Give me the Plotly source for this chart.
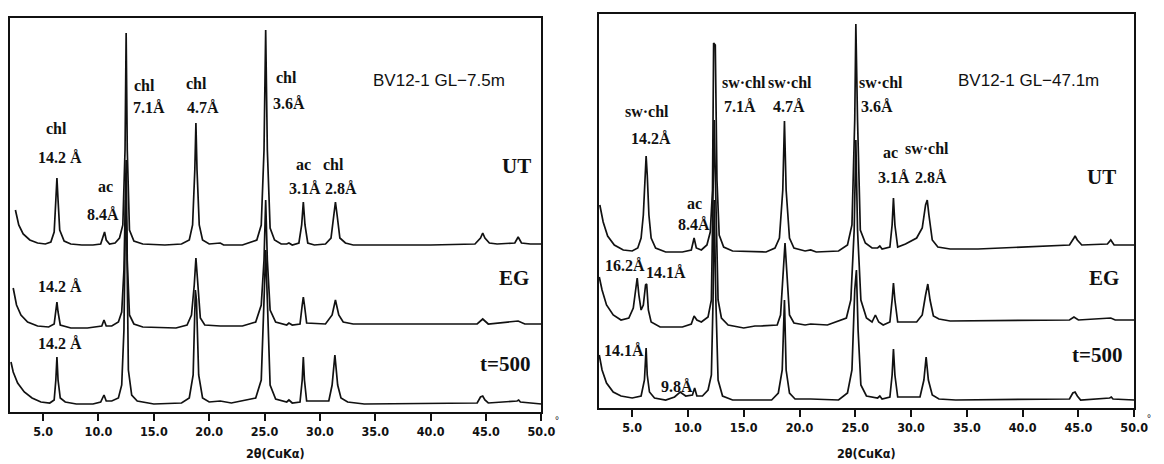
import plotly.graph_objects as go

W, H = 1164, 464

# ---------------- data: (2theta deg, relative counts) ----------------
# Left panel: BV12-1 GL-7.5m
left_ut = [(2.5, 42), (2.8, 27), (3.2, 18), (3.8, 12), (4.5, 9), (5.2, 8), (5.7, 10), (6.0, 20), (6.15, 52),
           (6.25, 74), (6.35, 52), (6.5, 22), (6.9, 11), (7.5, 8), (8.5, 7), (9.5, 7), (10.2, 8), (10.45, 16),
           (10.55, 20), (10.7, 12), (11.0, 8), (11.5, 9), (11.9, 14), (12.2, 27), (12.4, 102), (12.5, 219),
           (12.6, 102), (12.8, 22), (13.2, 11), (14.0, 8), (16.0, 7), (17.5, 8), (18.2, 12), (18.5, 27),
           (18.7, 82), (18.8, 129), (18.9, 82), (19.1, 27), (19.4, 12), (20.0, 8), (21.0, 9), (21.3, 7),
           (23.0, 7), (24.3, 12), (24.7, 27), (24.95, 102), (25.1, 222), (25.25, 102), (25.5, 24), (25.9, 12),
           (26.5, 8), (27.0, 8), (27.2, 9), (27.5, 7), (28.1, 9), (28.35, 27), (28.5, 50), (28.65, 27),
           (28.9, 9), (29.5, 7), (30.5, 8), (31.0, 14), (31.25, 37), (31.4, 50), (31.55, 37), (31.8, 14),
           (32.3, 9), (33.0, 7), (40.0, 7), (44.0, 8), (44.5, 14), (44.7, 19), (44.9, 14), (45.3, 9),
           (46.0, 8), (47.6, 9), (47.9, 15), (48.2, 9), (49.0, 8), (50.0, 8)]
left_eg = [(2.3, 44), (2.6, 27), (3.0, 17), (3.6, 10), (4.5, 6), (5.5, 5), (6.0, 8), (6.15, 20), (6.25, 30),
           (6.35, 20), (6.55, 7), (7.5, 4), (9.0, 4), (10.3, 6), (10.5, 12), (10.7, 6), (11.2, 6), (11.8, 10),
           (12.1, 20), (12.3, 62), (12.5, 172), (12.6, 72), (12.8, 17), (13.2, 8), (14.0, 5), (17.0, 4),
           (18.0, 7), (18.4, 17), (18.65, 47), (18.8, 74), (18.95, 47), (19.2, 14), (19.6, 7), (21.0, 6),
           (23.0, 6), (24.2, 10), (24.7, 27), (24.95, 72), (25.1, 132), (25.25, 72), (25.5, 22), (26.0, 10),
           (27.0, 7), (27.2, 9), (27.5, 7), (28.2, 8), (28.4, 27), (28.5, 35), (28.6, 27), (28.8, 9),
           (30.5, 8), (31.1, 17), (31.4, 32), (31.7, 17), (32.1, 10), (33.0, 8), (44.2, 8), (44.7, 13),
           (45.2, 8), (47.9, 11), (48.5, 8), (50.0, 8)]
left_t500 = [(2.1, 50), (2.3, 40), (2.7, 29), (3.3, 20), (4.0, 14), (4.8, 10), (5.6, 9), (6.0, 12), (6.15, 32),
             (6.25, 55), (6.35, 32), (6.55, 14), (7.0, 10), (8.0, 8), (9.5, 8), (10.2, 10), (10.5, 17),
             (10.7, 11), (11.2, 11), (11.8, 14), (12.1, 27), (12.3, 82), (12.45, 212), (12.55, 182),
             (12.7, 42), (13.0, 17), (13.5, 11), (15.0, 8), (17.5, 9), (18.2, 14), (18.55, 37), (18.75, 122),
             (18.85, 112), (19.05, 37), (19.4, 14), (20.0, 10), (21.0, 11), (22.0, 9), (24.2, 14), (24.7, 32),
             (24.95, 112), (25.1, 162), (25.25, 112), (25.5, 27), (26.0, 13), (27.0, 10), (27.2, 12),
             (27.5, 9), (28.2, 10), (28.4, 32), (28.5, 55), (28.6, 32), (28.8, 11), (30.8, 11), (31.1, 27),
             (31.35, 57), (31.6, 27), (31.9, 14), (32.5, 10), (34.0, 8), (44.2, 9), (44.5, 15), (44.7, 16),
             (44.9, 12), (45.2, 9), (47.8, 11), (47.95, 12), (48.1, 10), (50.0, 8)]

# Right panel: BV12-1 GL-47.1m
right_ut = [(2.1, 53), (2.4, 36), (2.8, 22), (3.4, 13), (4.2, 8), (5.0, 7), (5.5, 10), (5.8, 20), (6.0, 43),
            (6.15, 83), (6.25, 102), (6.35, 83), (6.5, 43), (6.7, 20), (7.1, 10), (8.0, 6), (9.5, 6),
            (10.3, 8), (10.55, 20), (10.75, 10), (11.2, 8), (11.7, 13), (12.0, 26), (12.2, 68), (12.3, 215),
            (12.45, 213), (12.6, 78), (12.8, 23), (13.2, 11), (14.0, 7), (17.0, 6), (17.8, 10), (18.2, 20),
            (18.5, 68), (18.65, 137), (18.8, 68), (19.1, 20), (19.5, 10), (20.5, 7), (21.0, 8), (21.5, 6),
            (23.5, 7), (24.3, 13), (24.7, 33), (24.95, 138), (25.05, 234), (25.2, 138), (25.45, 28),
            (25.9, 15), (26.5, 10), (27.0, 10), (27.2, 12), (27.4, 9), (28.1, 11), (28.3, 33), (28.42, 60),
            (28.55, 33), (28.8, 11), (29.5, 14), (30.5, 20), (31.0, 30), (31.3, 53), (31.45, 58), (31.6, 43),
            (31.9, 18), (32.4, 11), (33.5, 9), (36.0, 9), (40.0, 11), (44.2, 13), (44.6, 20), (44.7, 22),
            (44.9, 18), (45.3, 13), (47.6, 14), (47.9, 18), (48.2, 13), (50.0, 13)]
right_eg = [(2.05, 51), (2.3, 38), (2.7, 23), (3.3, 13), (4.0, 8), (4.7, 10), (5.1, 20), (5.3, 38), (5.45, 50),
            (5.6, 33), (5.8, 18), (6.0, 23), (6.2, 43), (6.3, 44), (6.45, 18), (6.7, 6), (7.5, 1), (9.5, 1),
            (10.3, 4), (10.55, 12), (10.8, 8), (11.2, 6), (11.8, 11), (12.1, 28), (12.25, 128), (12.35, 208),
            (12.5, 128), (12.7, 28), (13.0, 10), (13.6, 3), (15.0, 0), (16.0, 2), (16.5, 2), (18.0, 3),
            (18.3, 13), (18.55, 58), (18.7, 85), (18.85, 58), (19.1, 13), (19.5, 5), (20.5, 3), (21.0, 4),
            (22.5, 3), (24.2, 10), (24.6, 28), (24.9, 98), (25.05, 188), (25.2, 98), (25.5, 28), (26.0, 10),
            (26.5, 6), (26.8, 13), (27.1, 6), (27.5, 3), (28.1, 6), (28.3, 28), (28.42, 45), (28.55, 28),
            (28.8, 6), (30.5, 6), (31.0, 13), (31.3, 33), (31.5, 44), (31.7, 28), (32.0, 12), (32.5, 9),
            (33.5, 7), (44.2, 8), (44.6, 11), (45.0, 8), (47.9, 10), (48.3, 8), (50.0, 8)]
right_t500 = [(2.05, 53), (2.3, 38), (2.7, 25), (3.3, 16), (4.0, 12), (5.0, 10), (5.8, 12), (6.1, 28),
              (6.25, 60), (6.35, 33), (6.55, 16), (7.0, 10), (8.0, 8), (8.8, 11), (9.3, 16), (9.8, 12),
              (10.4, 13), (10.6, 20), (10.8, 12), (11.3, 12), (11.8, 18), (12.1, 33), (12.25, 108),
              (12.35, 208), (12.5, 108), (12.7, 28), (13.1, 12), (14.0, 8), (17.5, 8), (18.1, 15),
              (18.45, 38), (18.65, 108), (18.8, 38), (19.1, 15), (19.6, 9), (21.0, 9), (23.5, 8), (24.3, 15),
              (24.7, 38), (24.95, 118), (25.1, 138), (25.25, 78), (25.5, 23), (26.0, 12), (27.0, 10),
              (27.2, 12), (27.4, 9), (28.1, 11), (28.3, 33), (28.42, 59), (28.55, 33), (28.8, 11), (30.8, 11),
              (31.15, 28), (31.35, 51), (31.55, 28), (31.9, 13), (32.5, 9), (34.0, 8), (44.2, 9), (44.5, 15),
              (44.7, 16), (44.9, 12), (45.2, 8), (47.8, 10), (47.95, 11), (48.1, 9), (50.0, 8)]

tick_vals = [5, 10, 15, 20, 25, 30, 35, 40, 45, 50]
tick_text = ["5.0", "10.0", "15.0", "20.0", "25.0", "30.0", "35.0", "40.0", "45.0", "50.0"]

# vertical stacking offsets of the three patterns (layout, not data)
left_offsets = {"UT": 160, "EG": 80, "t=500": 0}
right_offsets = {"UT": 150, "EG": 80, "t=500": 0}

fig = go.Figure()
line = dict(color="#111111", width=1.7)
for name, pts in (("UT", left_ut), ("EG", left_eg), ("t=500", left_t500)):
    fig.add_trace(go.Scatter(x=[p[0] for p in pts], y=[p[1] + left_offsets[name] for p in pts],
                             mode="lines", line=line, name=name, xaxis="x", yaxis="y", showlegend=False))
for name, pts in (("UT", right_ut), ("EG", right_eg), ("t=500", right_t500)):
    fig.add_trace(go.Scatter(x=[p[0] for p in pts], y=[p[1] + right_offsets[name] for p in pts],
                             mode="lines", line=line, name=name, xaxis="x2", yaxis="y2", showlegend=False))

NARROW = "DejaVu Sans Condensed, Liberation Sans Narrow, Arial Narrow, sans-serif"
tickfont = dict(family=NARROW, size=12.5, color="#111", weight="bold")
xcommon = dict(range=[2, 50], showline=True, mirror=True, linecolor="#111", linewidth=2,
               ticks="outside", ticklen=7, tickwidth=1.5, tickcolor="#111",
               tickvals=tick_vals, ticktext=tick_text, tickfont=tickfont,
               showgrid=False, zeroline=False, fixedrange=True)
ycommon = dict(range=[0, 394], showline=True, mirror=True, linecolor="#111", linewidth=2,
               ticks="", showticklabels=False, showgrid=False, zeroline=False, fixedrange=True)

# figure fills the browser viewport (designed for 1164 x 464)
fig.update_layout(
    autosize=True, margin=dict(l=0, r=0, t=0, b=0),
    paper_bgcolor="white", plot_bgcolor="white",
    xaxis=dict(domain=[10 / W, 548 / W], anchor="y", **xcommon),
    yaxis=dict(domain=[1 - 412 / H, 1 - 18 / H], anchor="x", **ycommon),
    xaxis2=dict(domain=[606 / W, 1148 / W], anchor="y2", **xcommon),
    yaxis2=dict(domain=[1 - 408 / H, 1 - 14 / H], anchor="x2", **ycommon),
)

SERIF = "Liberation Serif, Times New Roman, serif"
SANS = "Liberation Sans, Arial, sans-serif"


def ann(text, px, py, size=16, family=SERIF, weight="bold", xanchor="center"):
    return dict(text=text, x=px / W, y=1 - py / H, xref="paper", yref="paper", showarrow=False,
                xanchor=xanchor, yanchor="middle",
                font=dict(size=size, family=family, color="#111", weight=weight))


anns = [
    # left panel
    ann("chl", 57, 128), ann("14.2 Å", 61, 158),
    ann("ac", 107, 186), ann("8.4Å", 104, 214),
    ann("chl", 146, 85), ann("7.1Å", 151, 108),
    ann("chl", 199, 83), ann("4.7Å", 205, 107),
    ann("chl", 290, 77), ann("3.6Å", 293, 103),
    ann("BV12-1 GL−7.5m", 444, 81, size=17, family=SANS, weight="normal"),
    ann("ac", 307, 164), ann("3.1Å", 309, 188),
    ann("chl", 338, 164), ann("2.8Å", 345, 188),
    ann("UT", 523, 166, size=21),
    ann("14.2 Å", 61, 286),
    ann("EG", 520, 278, size=21),
    ann("14.2 Å", 61, 343),
    ann("t=500", 511, 364, size=21),
    ann("2θ(CuKα)", 279, 453, size=12.5, family=NARROW),
    ann("°", 560, 420, size=10, family=SANS, weight="normal", xanchor="left"),
    # right panel
    ann("sw·chl", 655, 111), ann("14.2Å", 659, 138),
    ann("ac", 703, 203), ann("8.4Å", 702, 224),
    ann("sw·chl", 753, 82), ann("7.1Å", 749, 106),
    ann("sw·chl", 800, 82), ann("4.7Å", 799, 106),
    ann("sw·chl", 892, 82), ann("3.6Å", 888, 106),
    ann("BV12-1 GL−47.1m", 1041, 80, size=17, family=SANS, weight="normal"),
    ann("ac", 901, 152), ann("3.1Å", 905, 177),
    ann("sw·chl", 938, 148), ann("2.8Å", 942, 177),
    ann("UT", 1115, 177, size=21),
    ann("16.2Å", 633, 265), ann("14.1Å", 674, 272),
    ann("EG", 1117, 278, size=21),
    ann("14.1Å", 632, 350), ann("9.8Å", 685, 386),
    ann("t=500", 1110, 355, size=21),
    ann("2θ(CuKα)", 877, 453, size=12.5, family=NARROW),
    ann("°", 1159, 418, size=10, family=SANS, weight="normal", xanchor="left"),
]
fig.update_layout(annotations=anns)

post = (
    "var r=document.documentElement, b=document.body;"
    "[r,b].forEach(function(e){e.style.margin='0';e.style.padding='0';e.style.overflow='hidden';});"
    "var d=document.getElementById('{plot_id}');"
    "d.style.width='100vw';d.style.height='100vh';"
    "Plotly.Plots.resize(d);"
)
fig.write_html("out.html", config={"responsive": True, "displayModeBar": False},
               default_width="100vw", default_height="100vh", post_script=post)
